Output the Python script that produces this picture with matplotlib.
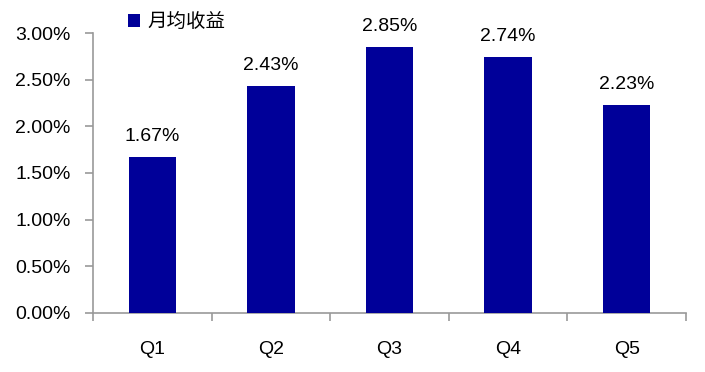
import matplotlib.pyplot as plt
from matplotlib.ticker import FuncFormatter
import numpy as np

plt.rcParams['font.family'] = ['Liberation Sans', 'Noto Sans CJK SC', 'DejaVu Sans']

categories = ['Q1', 'Q2', 'Q3', 'Q4', 'Q5']
monthly_return = [1.67, 2.43, 2.85, 2.74, 2.23]
series_name = '月均收益'

fig = plt.figure(figsize=(7.05, 3.72), dpi=100)
ax = fig.add_axes([0.132, 0.159, 0.841, 0.752])

x = np.arange(len(categories))
ax.bar(x, monthly_return, width=0.4, color='#000099', label=series_name, zorder=3)

for xi, v in zip(x, monthly_return):
    ax.text(xi, v + 0.13, f'{v:.2f}%', ha='center', va='bottom', fontsize=14)

ax.set_xlim(-0.5, len(categories) - 0.5)
ax.set_ylim(0, 3.0)
ax.set_yticks(np.arange(0, 3.01, 0.5))
ax.yaxis.set_major_formatter(FuncFormatter(lambda v, p: f'{v:.2f}%'))

# x ticks sit at category boundaries, labels in the middle
ax.set_xticks(np.arange(-0.5, len(categories)), minor=False)
ax.set_xticklabels([])
ax.set_xticks(x, minor=True)
ax.set_xticklabels(categories, minor=True)
ax.tick_params(axis='x', which='minor', length=0, pad=20, labelsize=14)
ax.tick_params(axis='x', which='major', length=6, color='#999999', width=1.2)
ax.tick_params(axis='y', length=6, color='#999999', width=1.2, labelsize=14, pad=10)

for s in ['top', 'right']:
    ax.spines[s].set_visible(False)
for s in ['left', 'bottom']:
    ax.spines[s].set_color('#999999')
    ax.spines[s].set_linewidth(1.2)

leg = ax.legend(loc='upper left', bbox_to_anchor=(0.03, 1.14), frameon=False,
                handlelength=0.6, handleheight=0.6, handletextpad=0.4,
                prop={'family': ['Noto Sans CJK SC'], 'size': 14})

fig.savefig('out.png', dpi=100)
